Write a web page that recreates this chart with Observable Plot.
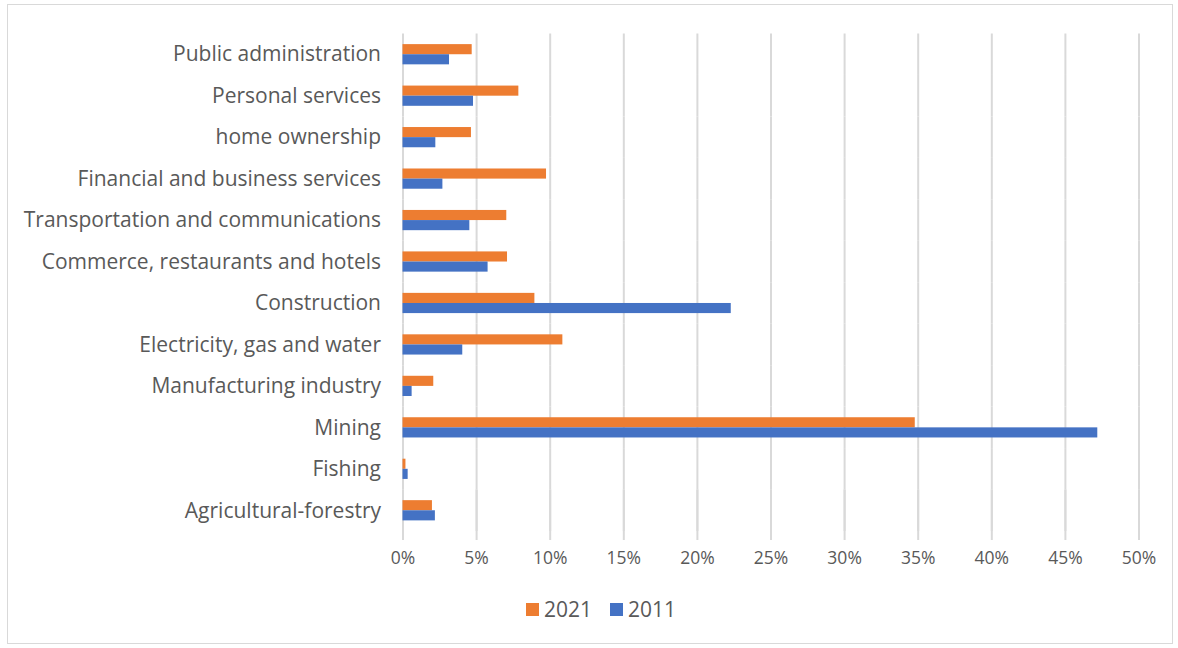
<!DOCTYPE html>
<html>
<head>
<meta charset="utf-8">
<script src="https://cdn.jsdelivr.net/npm/d3@7"></script>
<script src="https://cdn.jsdelivr.net/npm/@observablehq/plot@0.6"></script>
<style>
  html, body { margin: 0; padding: 0; background: #fff; }
  #wrap { position: relative; width: 1178px; height: 648px; font-family: "Open Sans", "Liberation Sans", sans-serif; }
  #frame { position: absolute; left: 7px; top: 4px; width: 1166px; height: 640px; border: 1.5px solid #d9d9d9; box-sizing: border-box; }
  #chart { position: absolute; left: 0; top: 0; }
  #legend { position: absolute; left: 526px; top: 595px; display: flex; align-items: center; font-size: 21px; color: #595959; line-height: 28px; }
  #legend .item { display: flex; align-items: center; margin-right: 18px; }
  #legend .sw { width: 13px; height: 13px; margin-right: 5px; }
</style>
</head>
<body>
<div id="wrap">
  <div id="frame"></div>
  <div id="chart"></div>
  <div id="legend"></div>
</div>
<script>
const categories = [
  "Public administration",
  "Personal services",
  "home ownership",
  "Financial and business services",
  "Transportation and communications",
  "Commerce, restaurants and hotels",
  "Construction",
  "Electricity, gas and water",
  "Manufacturing industry",
  "Mining",
  "Fishing",
  "Agricultural-forestry"
];
const years = ["2021", "2011"];
const values2021 = [4.7, 7.87, 4.65, 9.75, 7.05, 7.1, 8.96, 10.86, 2.09, 34.8, 0.2, 2.0];
const values2011 = [3.16, 4.79, 2.23, 2.71, 4.54, 5.78, 22.3, 4.06, 0.62, 47.2, 0.35, 2.2];
const xTicks = [0, 5, 10, 15, 20, 25, 30, 35, 40, 45, 50];
const colors = ["#ED7D31", "#4472C4"];

const data = [];
categories.forEach((c, i) => {
  data.push({category: c, year: "2021", value: values2021[i]});
  data.push({category: c, year: "2011", value: values2011[i]});
});
const lastCat = categories[categories.length - 1];

const chart = Plot.plot({
  width: 1178,
  height: 580,
  marginLeft: 402.5,
  marginRight: 39.5,
  marginTop: 33.5,
  marginBottom: 49,
  style: {fontFamily: "'Open Sans', 'Liberation Sans', sans-serif", color: "#595959", background: "transparent"},
  fy: {domain: categories, padding: 0, round: false, label: null},
  y: {domain: years, paddingInner: 0, paddingOuter: 1.05, round: false, axis: null},
  x: {domain: [0, 50], label: null},
  color: {domain: years, range: colors},
  marks: [
    Plot.ruleX(xTicks, {stroke: "#d9d9d9", strokeWidth: 2}),
    Plot.ruleX(xTicks.map(x => ({x, c: lastCat})), {x: "x", fy: "c", stroke: "#d9d9d9", strokeWidth: 2, insetBottom: -9}),
    Plot.barX(data, {fy: "category", y: "year", x: "value", fill: "year"}),
    Plot.axisFy({anchor: "left", tickSize: 0, tickPadding: 22, fontSize: 21, label: null}),
    Plot.axisX({ticks: xTicks, tickFormat: d => d + "%", tickSize: 0, tickPadding: 20, fontSize: 17.5, label: null})
  ]
});
document.getElementById("chart").appendChild(chart);

const legend = document.getElementById("legend");
years.forEach((y, i) => {
  const it = document.createElement("div");
  it.className = "item";
  const sw = document.createElement("div");
  sw.className = "sw";
  sw.style.background = colors[i];
  const t = document.createElement("span");
  t.textContent = y;
  it.appendChild(sw);
  it.appendChild(t);
  legend.appendChild(it);
});
</script>
</body>
</html>
